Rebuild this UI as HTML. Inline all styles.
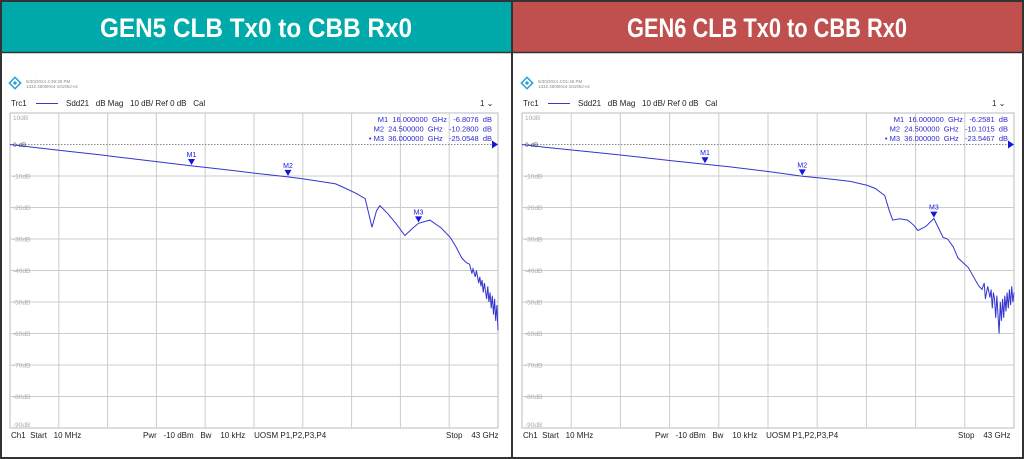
<!DOCTYPE html>
<html><head><meta charset="utf-8">
<style>
body{margin:0;width:1024px;height:459px;overflow:hidden;background:#fff;font-family:"Liberation Sans",sans-serif}
svg{display:block}
text{white-space:pre}
</style></head>
<body>
<svg id="s" width="1024" height="459">
  <rect x="0" y="0" width="1024" height="459" fill="#fff"/>
  <rect x="1" y="1" width="510" height="51" fill="#00a9aa"/>
  <rect x="513" y="1" width="510" height="51" fill="#c0504d"/>
  <text x="256" y="37" fill="#fff" font-size="27" font-weight="bold" text-anchor="middle" textLength="312" lengthAdjust="spacingAndGlyphs">GEN5 CLB Tx0 to CBB Rx0</text>
  <text x="767" y="37" fill="#fff" font-size="27" font-weight="bold" text-anchor="middle" textLength="280" lengthAdjust="spacingAndGlyphs">GEN6 CLB Tx0 to CBB Rx0</text>
  <rect x="1" y="1" width="1022" height="457" fill="none" stroke="#333" stroke-width="2"/>
  <line x1="512" y1="0" x2="512" y2="459" stroke="#333" stroke-width="2"/>
  <line x1="0" y1="52.5" x2="1024" y2="52.5" stroke="#333" stroke-width="1.5"/>
  <g id="p1"></g><g id="p2"></g>
</svg>
<script>
const dbTicks=[10,0,-10,-20,-30,-40,-50,-60,-70,-80,-90];
const tickLabels=["10dB","0 dB","-10dB","-20dB","-30dB","-40dB","-50dB","-60dB","-70dB","-80dB","-90dB"];
const gen5Freq=[0.01,2,5,8,10,13,16,18,20,22,24.5,26,27.5,28.7,29.5,30.5,31.3,31.9,32.3,32.6,33.3,34,34.8,35.5,36,37,38,38.8,39.3,39.8,40.2,40.5,40.7,40.8,41,41.1,41.3,41.4,41.5,41.6,41.7,41.8,41.9,42,42.1,42.2,42.3,42.4,42.5,42.6,42.7,42.8,42.9,43];
const gen5Db=[0,-0.9,-2.1,-3.3,-4.2,-5.5,-6.8,-7.6,-8.4,-9.3,-10.3,-11,-11.8,-12.5,-13.8,-15.5,-17.2,-26.3,-21,-19.4,-22,-25,-28.9,-26.5,-25,-24,-26.5,-29.5,-32.5,-36,-37.5,-38,-41,-39.5,-42,-40,-44,-42,-45,-43,-47,-44,-46.5,-49,-45,-50,-47,-52,-48,-54,-49,-56,-51,-59];
const gen6Freq=[0.01,2,5,8,10,13,16,18,20,22,24.5,26,27,28.7,30.2,30.9,31.7,32.1,32.4,33,33.7,34.2,34.6,35.3,36,36.4,36.8,37.2,37.7,38.1,39,39.9,40.2,40.4,40.5,40.7,40.9,41,41.1,41.2,41.3,41.4,41.5,41.6,41.7,41.8,41.9,42,42.1,42.2,42.3,42.4,42.5,42.6,42.7,42.8,42.9,43];
const gen6Db=[0,-0.9,-2,-3.1,-3.9,-5.1,-6.26,-7,-7.9,-8.8,-10.1,-10.6,-11,-11.7,-13,-14,-16.2,-21,-24,-23.6,-24,-25.5,-27.3,-26,-23.5,-26.5,-29.5,-30,-32.5,-36,-39,-44.8,-46,-44,-49,-45,-48.6,-46,-52,-47,-49,-55,-48,-54,-60,-50,-56,-49,-55,-48,-53,-47,-52,-46,-51,-45,-50,-47];
const markerFreq=[16,24.5,36];
const gen5MarkerDb=[-6.8076,-10.2800,-25.0548];
const gen6MarkerDb=[-6.2581,-10.1015,-23.5467];
const ns="http://www.w3.org/2000/svg";
function mk(g,tag,attrs,txt){const e=document.createElementNS(ns,tag);for(const k in attrs)e.setAttribute(k,attrs[k]);if(txt!==undefined)e.textContent=txt;g.appendChild(e);return e;}
function panel(gid,ox,x0,x1,freq,db,mdb,stamp){
  const g=document.getElementById(gid);
  const top=113,bot=428;
  const xs=f=>x0+(f-0.01)/(43-0.01)*(x1-x0);
  const ys=d=>top+(10-d)/100*(bot-top);
  const ic=mk(g,"g",{transform:`translate(${ox+15},83) rotate(45)`});
  
  
  mk(ic,"rect",{x:-4,y:-4,width:8,height:8,fill:"none",stroke:"#2a9fd6","stroke-width":1.5});
  mk(ic,"rect",{x:-1.5,y:-1.5,width:3,height:3,fill:"#2a9fd6"});
  let t=mk(g,"text",{x:ox+26,y:83,"font-size":4.5,fill:"#888"},stamp);
  
  mk(g,"text",{x:ox+26,y:88,"font-size":4.5,fill:"#888"},"1332.4500K64-101952-ez");
  t=mk(g,"text",{x:ox+11,y:106,"font-size":8,fill:"#222"},"Trc1");
  
  mk(g,"line",{x1:ox+36,x2:ox+58,y1:103.5,y2:103.5,stroke:"#3a3ad0","stroke-width":1});
  mk(g,"text",{x:ox+66,y:106,"font-size":8,fill:"#222"},"Sdd21   dB Mag   10 dB/ Ref 0 dB   Cal");
  t=mk(g,"text",{x:ox+480,y:106,"font-size":8,fill:"#222"},"1 ⌄");
  
  const pl=mk(g,"rect",{x:x0,y:top,width:x1-x0,height:bot-top,fill:"#fff",stroke:"#bbb","stroke-width":1});
  
  for(let i=1;i<10;i++){const x=x0+i*(x1-x0)/10;mk(g,"line",{x1:x,x2:x,y1:top,y2:bot,stroke:"#ccc","stroke-width":1});}
  dbTicks.forEach((d,i)=>{const y=ys(d);
    if(d!==10&&d!==-90&&d!==0)mk(g,"line",{x1:x0,x2:x1,y1:y,y2:y,stroke:"#ccc","stroke-width":1});
    const l=mk(g,"text",{x:x0+3,y:d===10?y+7:(d===-90?y-1:y+2.5),"font-size":6.5,fill:d===0?"#555":"#aaa"},tickLabels[i]);
    
  });
  mk(g,"line",{x1:x0,x2:x1,y1:ys(0),y2:ys(0),stroke:"#666","stroke-width":0.8,"stroke-dasharray":"1.5,1.5"});
  mk(g,"polygon",{points:`${x1},${ys(0)} ${x1-6},${ys(0)-4} ${x1-6},${ys(0)+4}`,fill:"#1515e0"});
  const pts=freq.map((f,i)=>xs(f).toFixed(1)+","+ys(db[i]).toFixed(1)).join(" ");
  const tr=mk(g,"polyline",{points:pts,fill:"none",stroke:"#3535d0","stroke-width":1});
  
  ["M1","M2","M3"].forEach((m,i)=>{const x=xs(markerFreq[i]),y=ys(mdb[i]);
    const mg=mk(g,"g",{});
    
    mk(mg,"polygon",{points:`${x-3.5},${y-7} ${x+3.5},${y-7} ${x},${y-1}`,fill:"#1515e0"});
    mk(mg,"text",{x:x,y:y-9,"font-size":7,fill:"#1515e0","text-anchor":"middle"},m);
    const ty=122+i*9.5;
    const row=mk(g,"text",{x:x1-6,y:ty,"font-size":7.5,fill:"#2a2ad0","text-anchor":"end"},
      `${i==2?"• ":""}${m}  ${markerFreq[i].toFixed(6)}  GHz   ${mdb[i].toFixed(4)}  dB`);
    
  });
  t=mk(g,"text",{x:ox+11,y:438,"font-size":8,fill:"#222"},"Ch1  Start   10 MHz");
  
  mk(g,"text",{x:ox+143,y:438,"font-size":8,fill:"#222"},"Pwr   -10 dBm   Bw    10 kHz    UOSM P1,P2,P3,P4");
  t=mk(g,"text",{x:ox+446,y:438,"font-size":8,fill:"#222"},"Stop    43 GHz");
  
}
panel("p1",0,10,498,gen5Freq,gen5Db,gen5MarkerDb,"9/30/2024 4:39:30 PM");
panel("p2",512,522,1014,gen6Freq,gen6Db,gen6MarkerDb,"9/30/2024 4:01:46 PM");
</script>
</body></html>
